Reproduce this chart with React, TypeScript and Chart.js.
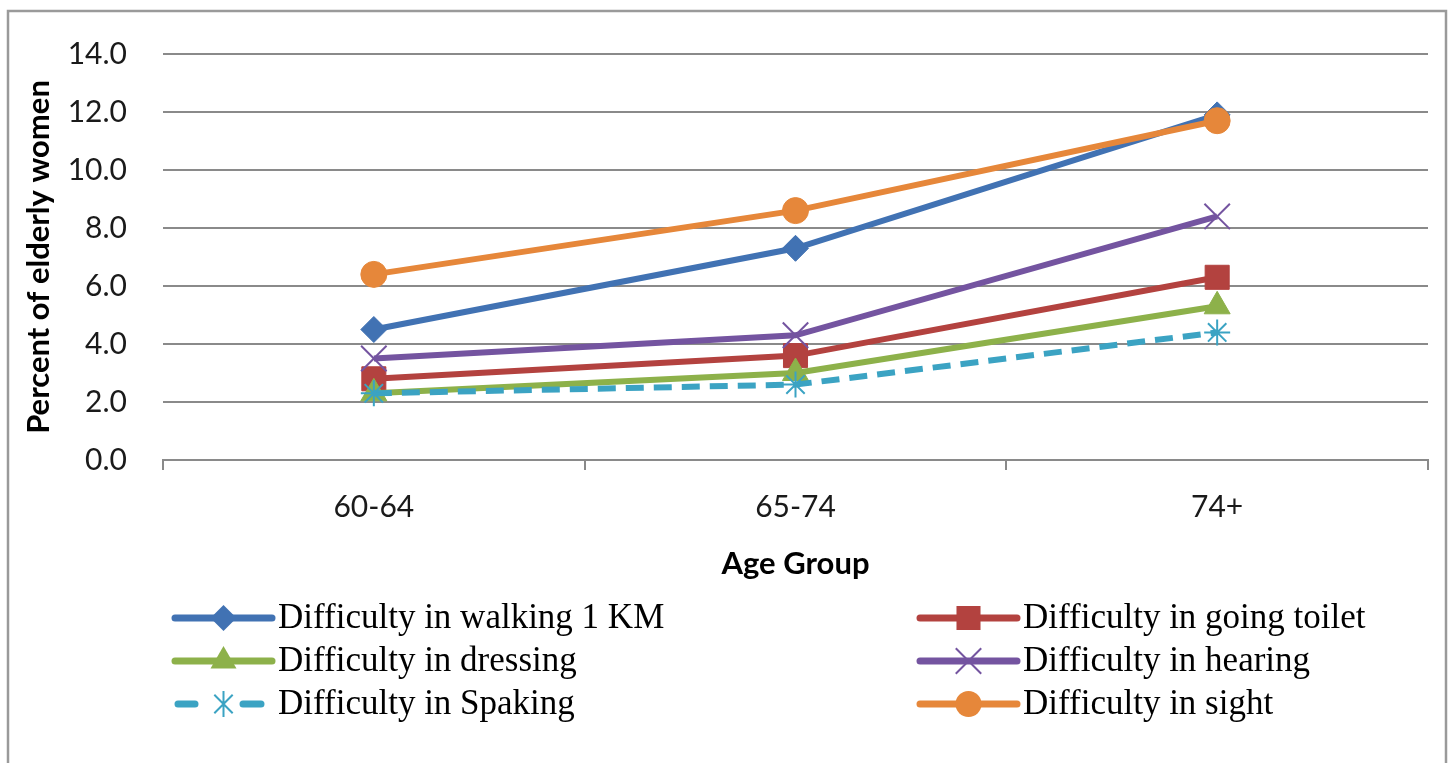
import React, { useEffect, useRef } from "react";
import { Chart, registerables } from "chart.js";

Chart.register(...registerables);

const categories = ["60-64", "65-74", "74+"];
const walking = [4.5, 7.3, 11.9];
const toilet = [2.8, 3.6, 6.3];
const dressing = [2.3, 3.0, 5.3];
const hearing = [3.5, 4.3, 8.4];
const speaking = [2.3, 2.6, 4.4];
const sight = [6.4, 8.6, 11.7];

const seriesNames = [
  "Difficulty in walking 1 KM",
  "Difficulty in going toilet",
  "Difficulty in dressing",
  "Difficulty in hearing",
  "Difficulty in Spaking",
  "Difficulty in sight",
];
const seriesValues = [walking, toilet, dressing, hearing, speaking, sight];
const seriesColors = ["#4172B3", "#B3423F", "#8DB14A", "#7454A0", "#3BA3C3", "#E6873A"];
const seriesMarkers = ["rectRot", "rect", "triangle", "crossRot", "star", "circle"];
const seriesMarkerRadius = [13, 17, 15, 18, 13, 13];
const seriesDashed = [false, false, false, false, true, false];

const yAxisTitle = "Percent of elderly women";
const xAxisTitle = "Age Group";

function drawMarker(ctx: CanvasRenderingContext2D, style: string, x: number, y: number, r: number, color: string) {
  ctx.save();
  ctx.setLineDash([]);
  ctx.fillStyle = color;
  ctx.strokeStyle = color;
  ctx.beginPath();
  if (style === "rectRot") {
    ctx.moveTo(x, y - r);
    ctx.lineTo(x + r, y);
    ctx.lineTo(x, y + r);
    ctx.lineTo(x - r, y);
    ctx.closePath();
    ctx.fill();
  } else if (style === "rect") {
    const s = r * Math.SQRT1_2;
    ctx.rect(x - s, y - s, 2 * s, 2 * s);
    ctx.fill();
  } else if (style === "triangle") {
    for (let k = 0; k < 3; k++) {
      const a = (k * 2 * Math.PI) / 3;
      const px = x + Math.sin(a) * r;
      const py = y - Math.cos(a) * r;
      if (k === 0) ctx.moveTo(px, py);
      else ctx.lineTo(px, py);
    }
    ctx.closePath();
    ctx.fill();
  } else if (style === "circle") {
    ctx.arc(x, y, r, 0, Math.PI * 2);
    ctx.fill();
  } else if (style === "crossRot" || style === "star") {
    ctx.lineWidth = 2;
    const d = r * Math.SQRT1_2;
    ctx.moveTo(x - d, y - d);
    ctx.lineTo(x + d, y + d);
    ctx.moveTo(x - d, y + d);
    ctx.lineTo(x + d, y - d);
    if (style === "star") {
      ctx.moveTo(x, y - r);
      ctx.lineTo(x, y + r);
    }
    ctx.stroke();
  }
  ctx.restore();
}

const framePlugin = {
  id: "frameAndLegend",
  beforeDraw(chart: any) {
    const ctx = chart.ctx as CanvasRenderingContext2D;
    ctx.save();
    ctx.fillStyle = "#ffffff";
    ctx.fillRect(0, 0, chart.width, chart.height);
    ctx.strokeStyle = "#9a9a9a";
    ctx.lineWidth = 2.5;
    ctx.strokeRect(8, 11, chart.width - 10, chart.height + 20);
    ctx.restore();
  },
  afterDraw(chart: any) {
    const ctx = chart.ctx as CanvasRenderingContext2D;
    const area = chart.chartArea;
    const colX = [area.left + 12, area.left + 757];
    const rowY0 = area.bottom + 158;
    const rowH = 43;
    const sampleLen = 97;
    chart.data.datasets.forEach((ds: any, i: number) => {
      const col = i % 2;
      const row = Math.floor(i / 2);
      const x0 = colX[col];
      const y = rowY0 + row * rowH;
      ctx.save();
      ctx.strokeStyle = ds.borderColor;
      ctx.lineWidth = 7;
      ctx.lineCap = "round";
      if (ds.borderDash && ds.borderDash.length) {
        ctx.beginPath();
        ctx.moveTo(x0 + 3, y);
        ctx.lineTo(x0 + 20, y);
        ctx.moveTo(x0 + 68, y);
        ctx.lineTo(x0 + 86, y);
        ctx.stroke();
      } else {
        ctx.beginPath();
        ctx.moveTo(x0, y);
        ctx.lineTo(x0 + sampleLen, y);
        ctx.stroke();
      }
      ctx.restore();
      drawMarker(ctx, ds.pointStyle, x0 + sampleLen / 2, y, ds.pointRadius, ds.borderColor);
      ctx.save();
      ctx.fillStyle = "#000000";
      ctx.font = "35px 'Liberation Serif', serif";
      ctx.textAlign = "left";
      ctx.textBaseline = "middle";
      ctx.fillText(ds.label, x0 + sampleLen + 6, y + 1);
      ctx.restore();
    });
  },
};

export default function App() {
  const canvasRef = useRef<HTMLCanvasElement | null>(null);

  useEffect(() => {
    document.body.style.margin = "0";
    document.body.style.overflow = "hidden";
    const canvas = canvasRef.current;
    if (!canvas) return;

    const datasets = seriesNames.map((name, i) => ({
      label: name,
      data: seriesValues[i],
      borderColor: seriesColors[i],
      backgroundColor: seriesColors[i],
      pointBackgroundColor: seriesColors[i],
      pointBorderColor: seriesColors[i],
      pointBorderWidth: seriesMarkers[i] === "crossRot" || seriesMarkers[i] === "star" ? 2 : 1,
      pointStyle: seriesMarkers[i],
      pointRadius: seriesMarkerRadius[i],
      pointHoverRadius: seriesMarkerRadius[i],
      borderWidth: 6,
      borderDash: seriesDashed[i] ? [18, 10] : [],
      borderCapStyle: "butt" as const,
      tension: 0,
      fill: false,
      order: seriesNames.length - i,
    }));

    const chart = new Chart(canvas, {
      type: "line",
      data: { labels: categories, datasets },
      options: {
        responsive: true,
        maintainAspectRatio: false,
        animation: false,
        devicePixelRatio: 1,
        layout: { padding: { left: 10, right: 20, top: 50, bottom: 160 } },
        plugins: {
          legend: { display: false },
          tooltip: { enabled: false },
          title: { display: false },
        },
        scales: {
          x: {
            type: "category",
            offset: true,
            grid: {
              display: true,
              drawOnChartArea: false,
              drawTicks: true,
              tickLength: 10,
              color: "#8a8a8a",
              lineWidth: 2,
              offset: true,
            },
            border: { display: true, color: "#8a8a8a", width: 2 },
            ticks: {
              color: "#1a1a1a",
              font: { family: "Lato", size: 30 },
              padding: 19,
              maxRotation: 0,
            },
            title: {
              display: true,
              text: xAxisTitle,
              color: "#000000",
              font: { family: "Lato", size: 31, weight: "bold" },
              padding: { top: 0, bottom: 20 },
            },
            afterFit: (scale: any) => {
              scale.height = 143;
            },
          },
          y: {
            min: 0,
            max: 14,
            grid: {
              display: true,
              drawTicks: false,
              color: "#8a8a8a",
              lineWidth: 2,
            },
            border: { display: false },
            ticks: {
              stepSize: 2,
              color: "#1a1a1a",
              font: { family: "Lato", size: 30 },
              padding: 36,
              callback: (v: any) => Number(v).toFixed(1),
            },
            title: {
              display: true,
              text: yAxisTitle,
              color: "#000000",
              font: { family: "Lato", size: 31, weight: "bold" },
              padding: { top: 10, bottom: 0 },
            },
            afterFit: (scale: any) => {
              scale.width = 153;
            },
          },
        },
      },
      plugins: [framePlugin],
    });

    return () => {
      chart.destroy();
    };
  }, []);

  return (
    <div style={{ position: "relative", width: "1448px", height: "763px" }}>
      <canvas ref={canvasRef} />
    </div>
  );
}
